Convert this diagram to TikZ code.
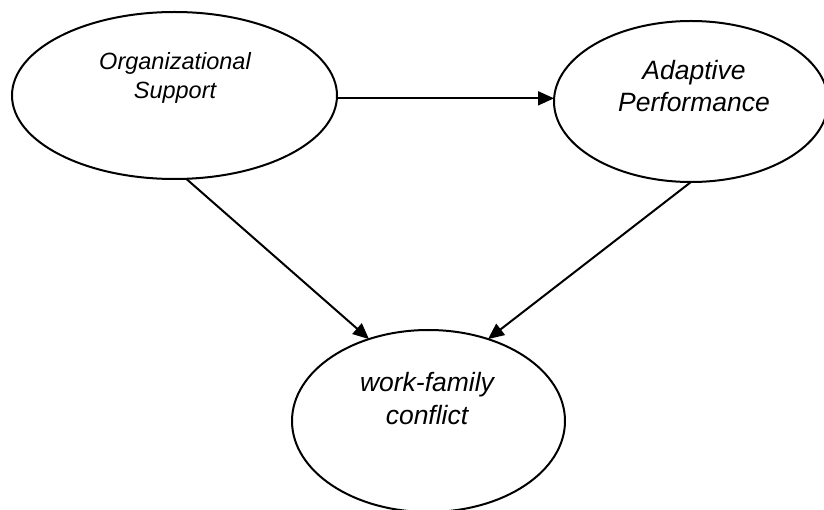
\documentclass[tikz,border=0pt]{standalone}
\usepackage{fontspec}
\setmainfont{Liberation Sans}
\usetikzlibrary{shapes.geometric,arrows.meta}
\begin{document}
\begin{tikzpicture}[x=1pt,y=-1pt,
  oval/.style={draw,ellipse,line width=2pt,inner sep=0pt,outer sep=0pt},
  caption/.style={align=center,inner sep=0pt,anchor=base},
  link/.style={line width=2pt,-{Triangle[length=16pt,width=14pt]}}]
\useasboundingbox (0,0) rectangle (824,510);

% the three constructs
\node[oval,minimum width=325pt,minimum height=167pt] (OS) at (174.5,95.5) {};
\node[oval,minimum width=274pt,minimum height=161pt] (AP) at (691,101.5) {};
\node[oval,minimum width=273pt,minimum height=182pt] (WF) at (428.5,421) {};

% their names, set in the upper part of each ellipse (base = last line)
\node[caption,font=\itshape\fontsize{23.5}{28.5}\selectfont] (OStext) at (175,98.5) {Organizational\\Support};
\node[caption,font=\itshape\fontsize{26.5}{31.5}\selectfont] (APtext) at (694,111.5) {Adaptive\\Performance};
\node[caption,font=\itshape\fontsize{26.5}{32.5}\selectfont] (WFtext) at (427,424) {work-family\\conflict};

% paths
\draw[link] (OS.-1) -- (OS.-1 -| AP.west);
\draw[link] (OS.-82) -- (WF.126);
\draw[link] (AP.south) -- (WF.54);
\end{tikzpicture}
\end{document}
